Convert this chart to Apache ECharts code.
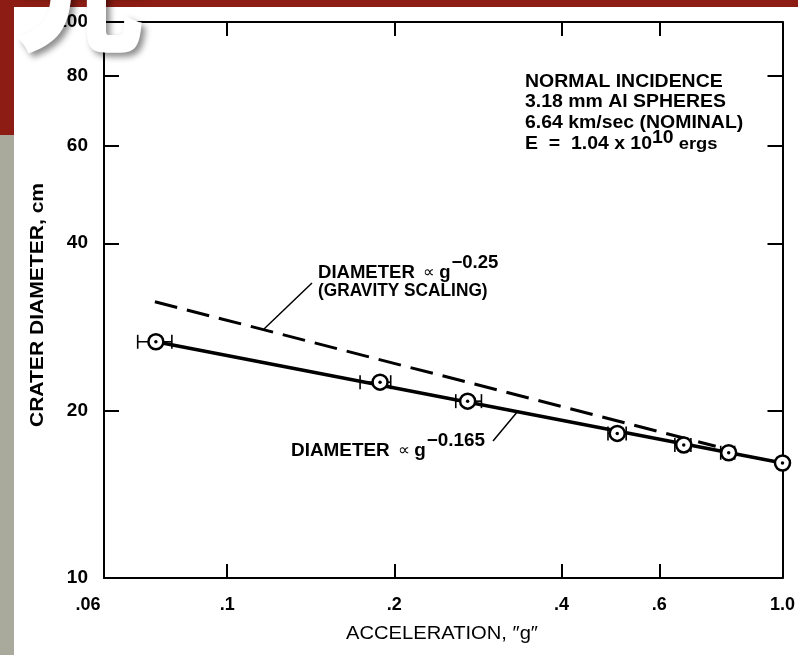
<!DOCTYPE html>
<html>
<head>
<meta charset="utf-8">
<script src="https://cdn.jsdelivr.net/npm/echarts@6/dist/echarts.min.js"></script>
<style>
  html, body { margin: 0; padding: 0; background: #fff; }
  #chart { width: 798px; height: 655px; }
</style>
</head>
<body>
<div id="chart"></div>
<script>
// Crater diameter vs. acceleration (log-log)
const accel      = [0.0744, 0.1885, 0.271, 0.504, 0.664, 0.80, 1.0];
const diameter   = [26.6, 22.5, 20.8, 18.2, 17.35, 16.8, 16.1];
const accelLow   = [0.069, 0.1735, 0.258, 0.485, 0.640, 0.774, null];
const accelHigh  = [0.0795, 0.197, 0.287, 0.523, 0.684, 0.820, null];

// fitted power law (g^-0.165) and gravity-scaling reference (g^-0.25)
const fitAccel     = [0.0744, 1.0];
const fitDiameter  = [26.6, 16.1];
const gravAccel    = [0.0741, 0.758];
const gravDiameter = [31.4, 17.26];

const xTickValues = [0.06, 0.1, 0.2, 0.4, 0.6, 1.0];
const xTickLabels = ['.06', '.1', '.2', '.4', '.6', '1.0'];
const yTickValues = [10, 20, 40, 60, 80, 100];
const yTickLabels = ['10', '20', '40', '60', '80', '100'];

const FONT = '"Liberation Sans", Arial, Helvetica, sans-serif';

function nearestLabel(v, vals, labels) {
  let best = 0;
  for (let i = 1; i < vals.length; i++) {
    if (Math.abs(Math.log(vals[i] / v)) < Math.abs(Math.log(vals[best] / v))) best = i;
  }
  return labels[best];
}

const chart = echarts.init(document.getElementById('chart'), null, { renderer: 'canvas' });

// text runs laid out left to right (for superscripts), optionally stretched
const measureCtx = document.createElement('canvas').getContext('2d');
function textRun(x, y, parts, sx) {
  sx = sx || 1;
  const out = [];
  let cx = x;
  parts.forEach(p => {
    const font = (p.weight || 'bold') + ' ' + p.size + 'px ' + FONT;
    measureCtx.font = font;
    out.push({
      type: 'text', z: 50, x: cx, y: y + (p.dy || 0), scaleX: sx,
      style: { x: 0, y: 0, text: p.t, font: font, fill: '#000',
               textAlign: 'left', textVerticalAlign: 'middle' }
    });
    cx += measureCtx.measureText(p.t).width * sx + (p.gap || 0);
  });
  return out;
}

const axisLineStyle = { color: '#000', width: 2 };
const tickStyle = { color: '#000', width: 2 };

function xAxisDef(pos, showLabels) {
  return {
    type: 'log', logBase: 10, min: 0.06, max: 1.0, position: pos,
    axisLine: { show: true, onZero: false, lineStyle: axisLineStyle },
    axisTick: { show: true, inside: true, length: 14, lineStyle: tickStyle, customValues: xTickValues },
    axisLabel: {
      show: showLabels, customValues: xTickValues, margin: 18,
      color: '#000', fontSize: 18, fontWeight: 'bold', fontFamily: FONT,
      formatter: v => {
        const s = nearestLabel(v, xTickValues, xTickLabels);
        return s === '.06' ? '{l|.06}' : s;
      },
      rich: { l: { color: '#000', fontSize: 18, fontWeight: 'bold', fontFamily: FONT, padding: [0, 32, 0, 0] } }
    },
    splitLine: { show: false }, minorTick: { show: false }, minorSplitLine: { show: false }
  };
}
function yAxisDef(pos, showLabels) {
  return {
    type: 'log', logBase: 10, min: 10, max: 100, position: pos,
    axisLine: { show: true, onZero: false, lineStyle: axisLineStyle },
    axisTick: { show: true, inside: true, length: 15, lineStyle: tickStyle, customValues: yTickValues },
    axisLabel: {
      show: showLabels, customValues: yTickValues, margin: 16,
      color: '#000', fontSize: 19, fontWeight: 'bold', fontFamily: FONT,
      formatter: v => nearestLabel(v, yTickValues, yTickLabels)
    },
    splitLine: { show: false }, minorTick: { show: false }, minorSplitLine: { show: false }
  };
}

const errData = [];
accel.forEach((g, i) => {
  if (accelLow[i] != null) errData.push([g, diameter[i], accelLow[i], accelHigh[i]]);
});

const graphics = [
  { type: 'rect', z: -10, shape: { x: 0, y: 0, width: 798, height: 7 }, style: { fill: '#8d1d14' } },
  { type: 'rect', z: -10, shape: { x: 0, y: 0, width: 14, height: 135 }, style: { fill: '#8d1d14' } },
  { type: 'rect', z: -10, shape: { x: 0, y: 135, width: 14, height: 520 }, style: { fill: '#a9aa9c' } },
  // axis titles
  { type: 'text', z: 50, x: 38, y: 305, rotation: Math.PI / 2, scaleX: 1.17,
    style: { x: 0, y: 0, text: 'CRATER DIAMETER, cm', font: 'bold 18px ' + FONT, fill: '#000',
             textAlign: 'center', textVerticalAlign: 'middle' } },
  { type: 'text', z: 50, x: 442, y: 634, scaleX: 1.12,
    style: { x: 0, y: 0, text: 'ACCELERATION, \u2033g\u2033', font: '18px ' + FONT, fill: '#000',
             textAlign: 'center', textVerticalAlign: 'middle' } },
  // leader lines
  { type: 'line', z: 50, shape: { x1: 312, y1: 283, x2: 264, y2: 329 }, style: { stroke: '#000', lineWidth: 1.5 } },
  { type: 'line', z: 50, shape: { x1: 493, y1: 441, x2: 518, y2: 411 }, style: { stroke: '#000', lineWidth: 1.5 } }
];

// experiment conditions
[
  'NORMAL INCIDENCE',
  '3.18 mm Al SPHERES',
  '6.64 km/sec (NOMINAL)'
].forEach((t, i) => {
  graphics.push(...textRun(525, 82 + i * 20.5, [{ t: t, size: 18 }], 1.08));
});
graphics.push(...textRun(525, 144, [
  { t: 'E  =  1.04 x 10', size: 18 },
  { t: '10', size: 18, dy: -6 },
  { t: ' ergs', size: 17 }
], 1.08));

// power-law annotations
graphics.push(...textRun(318, 273, [
  { t: 'DIAMETER', size: 18, gap: 8 },
  { t: '\u221D', size: 16, weight: 'normal', gap: 5 },
  { t: 'g', size: 18, gap: 1 },
  { t: '\u22120.25', size: 18, dy: -10 }
], 1.03));
graphics.push(...textRun(318, 291, [{ t: '(GRAVITY SCALING)', size: 18 }], 0.96));
graphics.push(...textRun(291, 451, [
  { t: 'DIAMETER', size: 18, gap: 8 },
  { t: '\u221D', size: 16, weight: 'normal', gap: 5 },
  { t: 'g', size: 18, gap: 1 },
  { t: '\u22120.165', size: 18, dy: -10 }
], 1.05));

// white heading glyph overlapping the corner
graphics.push({
  type: 'text', z: 100, x: 80, y: 56,
  style: {
    x: 0, y: 0, text: '\u5149', font: '900 130px "Noto Sans CJK JP"', fill: '#ffffff',
    textAlign: 'center', textVerticalAlign: 'bottom',
    shadowBlur: 6, shadowColor: 'rgba(0,0,0,0.45)', shadowOffsetX: 4, shadowOffsetY: 4,
    textShadowBlur: 6, textShadowColor: 'rgba(0,0,0,0.45)', textShadowOffsetX: 4, textShadowOffsetY: 4
  }
});

chart.setOption({
  animation: false,
  backgroundColor: '#ffffff',
  grid: { left: 104, right: 13, top: 22, bottom: 77, show: false },
  xAxis: [xAxisDef('bottom', true), xAxisDef('top', false)],
  yAxis: [yAxisDef('left', true), yAxisDef('right', false)],
  graphic: graphics,
  series: [
    {
      name: 'fit', type: 'line', z: 2, symbol: 'none', silent: true,
      data: fitAccel.map((g, i) => [g, fitDiameter[i]]),
      lineStyle: { color: '#000', width: 3.5 }
    },
    {
      name: 'gravity', type: 'line', z: 2, symbol: 'none', silent: true,
      data: gravAccel.map((g, i) => [g, gravDiameter[i]]),
      lineStyle: { color: '#000', width: 3, type: [23, 10], cap: 'butt' }
    },
    {
      name: 'range', type: 'custom', z: 3, silent: true,
      data: errData,
      encode: { x: 0, y: 1 },
      renderItem: (params, api) => {
        const d = api.value(1);
        const p1 = api.coord([api.value(2), d]);
        const p2 = api.coord([api.value(3), d]);
        const h = 7;
        const st = { stroke: '#000', lineWidth: 1.6 };
        return {
          type: 'group',
          children: [
            { type: 'line', shape: { x1: p1[0], y1: p1[1], x2: p2[0], y2: p2[1] }, style: st },
            { type: 'line', shape: { x1: p1[0], y1: p1[1] - h, x2: p1[0], y2: p1[1] + h }, style: st },
            { type: 'line', shape: { x1: p2[0], y1: p2[1] - h, x2: p2[0], y2: p2[1] + h }, style: st }
          ]
        };
      }
    },
    {
      name: 'measured', type: 'scatter', z: 4, silent: true,
      data: accel.map((g, i) => [g, diameter[i]]),
      symbol: 'circle', symbolSize: 15,
      itemStyle: { color: '#fff', borderColor: '#000', borderWidth: 2.5, opacity: 1 }
    },
    {
      name: 'center', type: 'scatter', z: 5, silent: true,
      data: accel.map((g, i) => [g, diameter[i]]),
      symbol: 'circle', symbolSize: 3.5,
      itemStyle: { color: '#000', opacity: 1 }
    }
  ]
});
</script>
</body>
</html>
